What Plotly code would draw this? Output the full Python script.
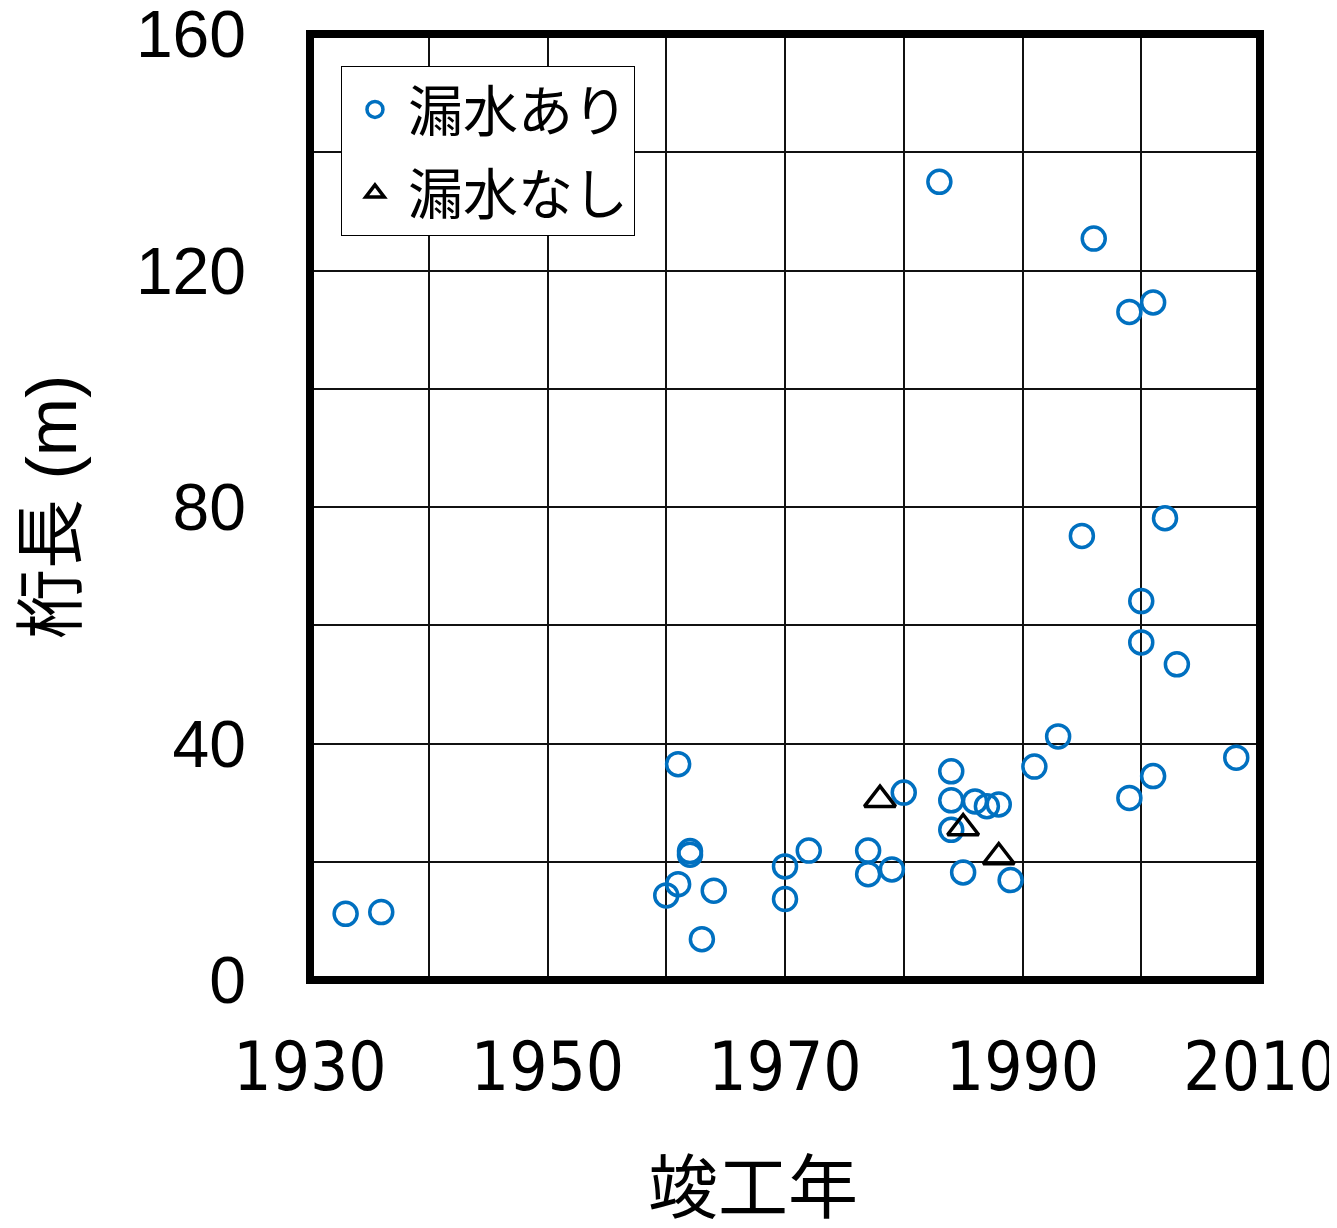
import plotly.graph_objects as go

# 漏水あり (leak present)
leak_year = [1933, 1936, 1960, 1961, 1961, 1962, 1962, 1963, 1964, 1970, 1970, 1972,
             1977, 1977, 1979, 1980, 1983, 1984, 1984, 1984, 1985, 1986, 1987, 1988,
             1989, 1991, 1993, 1995, 1996, 1999, 2001, 2002, 2000, 2000, 2003, 1999,
             2001, 2008]
leak_len = [11.2, 11.5, 14.3, 16.2, 36.5, 21.8, 21.2, 6.9, 15.1, 19.2, 13.7, 21.9,
            21.9, 17.9, 18.7, 31.7, 135.0, 35.3, 30.4, 25.4, 18.2, 30.2, 29.4, 29.7,
            16.9, 36.1, 41.2, 75.1, 125.4, 113.0, 114.6, 78.1, 64.1, 57.1, 53.4, 30.8,
            34.5, 37.6]

# 漏水なし (no leak)
noleak_year = [1978, 1985, 1988]
noleak_len = [30.5, 25.7, 20.8]

x_tick_vals = [1930, 1950, 1970, 1990, 2010]
y_tick_vals = [0, 40, 80, 120, 160]

CJK = "Liberation Sans, Arial, Noto Sans CJK JP, sans-serif"

fig = go.Figure()
fig.add_trace(go.Scatter(
    x=leak_year, y=leak_len, mode="markers", name="漏水あり",
    legendgroup="a",
    marker=dict(symbol="circle-open", size=23, color="#0070C0",
                line=dict(width=3.5, color="#0070C0")),
))
fig.add_trace(go.Scatter(
    x=noleak_year, y=noleak_len, mode="markers", name="漏水なし",
    legendgroup="b",
    marker=dict(symbol="triangle-up-open", size=27, color="black",
                line=dict(width=3.5, color="black")),
))

grid_col = "#111111"
fig.update_xaxes(
    range=[1930, 2010], tickmode="array", tickvals=x_tick_vals,
    ticktext=[str(v) for v in x_tick_vals],
    showgrid=True, gridcolor=grid_col, gridwidth=2,
    minor=dict(dtick=10, tick0=1930, showgrid=True, gridcolor=grid_col, gridwidth=2, ticks=""),
    ticks="", showline=False, zeroline=False, automargin=False,
    tickfont=dict(family="DejaVu Sans Condensed, Liberation Sans, sans-serif",
                  size=67, color="black"),
    ticklabelstandoff=42, ticklabeloverflow="allow",
)
fig.update_yaxes(
    range=[0, 160], tickmode="array", tickvals=y_tick_vals,
    ticktext=[str(v) for v in y_tick_vals],
    showgrid=True, gridcolor=grid_col, gridwidth=2,
    minor=dict(dtick=20, tick0=0, showgrid=True, gridcolor=grid_col, gridwidth=2, ticks=""),
    ticks="", showline=False, zeroline=False, automargin=False,
    tickfont=dict(family="Liberation Sans, Arial, sans-serif", size=66, color="black"),
    ticklabelstandoff=63, ticklabeloverflow="allow",
)

# plot frame
fig.add_shape(type="rect", xref="paper", yref="paper", x0=0, x1=1, y0=0, y1=1,
              line=dict(color="black", width=8), layer="above")

# axis titles
fig.add_annotation(text="竣工年", xref="paper", yref="paper", x=0.466, y=-0.221,
                   xanchor="center", yanchor="middle", showarrow=False,
                   font=dict(family=CJK, size=70, color="black"))
fig.add_annotation(text="桁長 (m)", xref="paper", yref="paper", x=-0.2716, y=0.5,
                   xanchor="center", yanchor="middle", showarrow=False, textangle=-90,
                   font=dict(family=CJK, size=70, color="black"))

# the page body adds an 8px offset, so margins are shifted to land the plot where the reference has it
fig.update_layout(
    width=1337, height=1228,
    margin=dict(l=302, r=85, t=26, b=256, autoexpand=False),
    paper_bgcolor="white", plot_bgcolor="white",
    showlegend=True,
    legend=dict(
        x=0.0326, y=0.966, xanchor="left", yanchor="top",
        bgcolor="white", bordercolor="black", borderwidth=1,
        font=dict(family=CJK, size=55, color="black"),
        itemwidth=56, tracegroupgap=9, traceorder="grouped",
    ),
)

fig.write_html("out.html")
